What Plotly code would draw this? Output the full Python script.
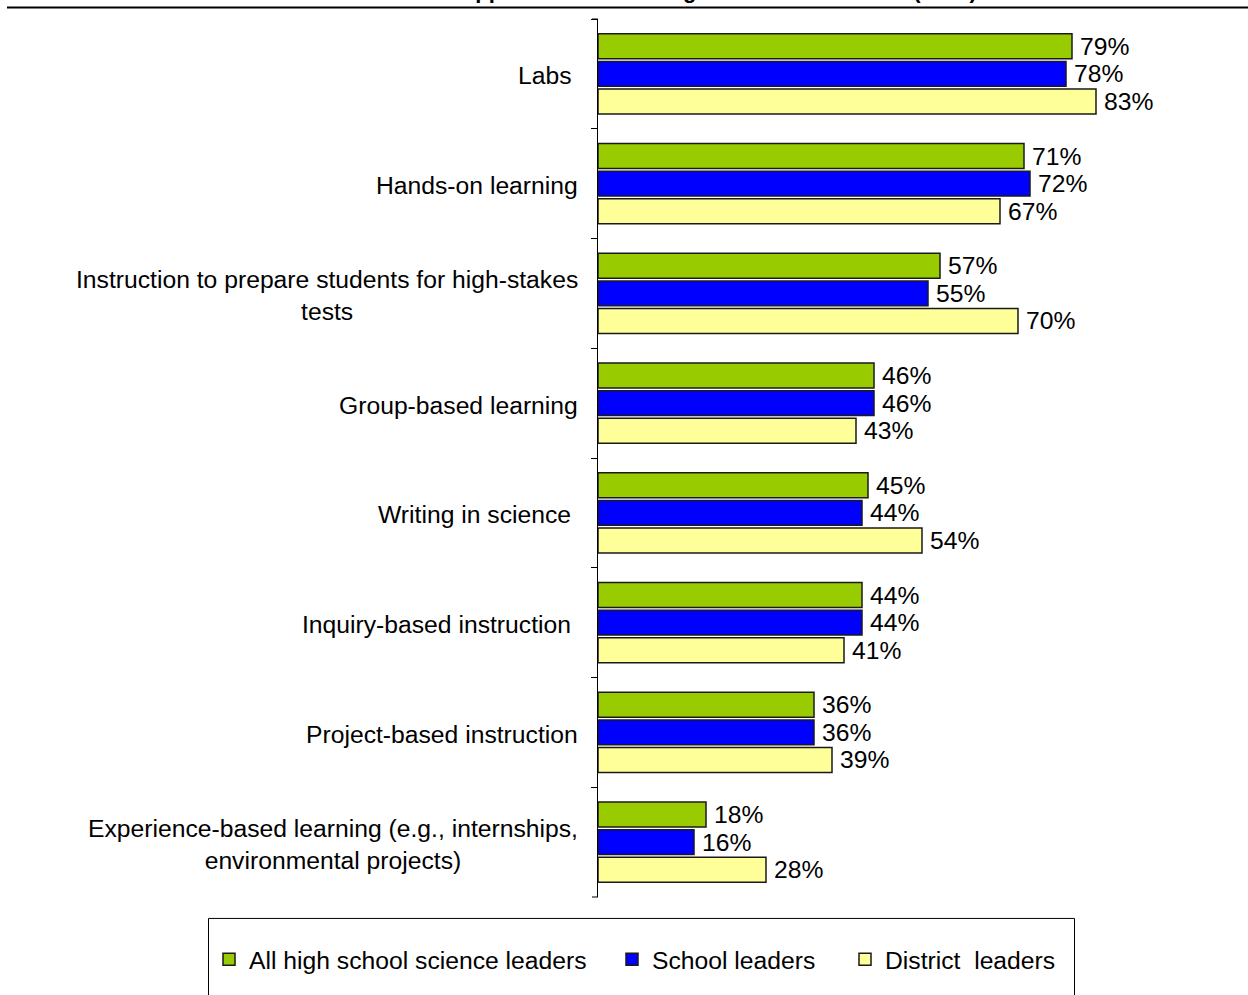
import plotly.graph_objects as go

# Survey categories (top to bottom) and the share of respondents per group
categories = [
    "Labs",
    "Hands-on learning",
    "Instruction to prepare students for high-stakes tests",
    "Group-based learning",
    "Writing in science",
    "Inquiry-based instruction",
    "Project-based instruction",
    "Experience-based learning (e.g., internships, environmental projects)",
]
category_labels = [
    "Labs\u00a0",
    "Hands-on learning",
    "Instruction to prepare students for high-stakes<br>tests",
    "Group-based learning",
    "Writing in science\u00a0",
    "Inquiry-based instruction\u00a0",
    "Project-based instruction",
    "Experience-based learning (e.g., internships,<br>environmental projects)",
]
all_leaders = [79, 71, 57, 46, 45, 44, 36, 18]
school_leaders = [78, 72, 55, 46, 44, 44, 36, 16]
district_leaders = [83, 67, 70, 43, 54, 41, 39, 28]

series_names = ["All high school science leaders", "School leaders", "District\u00a0 leaders"]
series_values = [all_leaders, school_leaders, district_leaders]
series_colors = ["#99CC00", "#0000FF", "#FFFF99"]
legend_ids = ["legend", "legend2", "legend3"]

title_text = "Instructional Approaches Receiving Increased Attention (2007)"

FONT = "Arial, Liberation Sans, sans-serif"
FS = 24.7
W, H = 1248, 995
L, R, T, B = 598, 50, 19, 95
PW, PH = W - L - R, H - T - B


def px_x(px):
    return (px - L) / PW


def px_y(py):
    return (H - B - py) / PH


fig = go.Figure()
for name, vals, color, lg in zip(series_names, series_values, series_colors, legend_ids):
    fig.add_trace(go.Bar(
        y=categories,
        x=vals,
        name=name,
        orientation="h",
        marker=dict(color=color, line=dict(color="#1a1a1a", width=1.5)),
        text=[f"\u2009{v}%" for v in vals],
        textposition="outside",
        textfont=dict(family=FONT, size=FS, color="black"),
        constraintext="none",
        cliponaxis=False,
        hoverinfo="skip",
        legend=lg,
    ))

# Category labels, right-aligned next to the axis with centred line breaks
annotations = []
for cat, lab in zip(categories, category_labels):
    annotations.append(dict(
        x=0, xref="paper", y=cat, yref="y",
        text=lab, showarrow=False,
        xanchor="right", yanchor="middle", align="center",
        xshift=-18, yshift=-2,
        font=dict(family=FONT, size=FS, color="black"),
    ))

# Title (sits at the very top edge of the page)
annotations.append(dict(
    x=px_x(979), xref="paper", y=px_y(5), yref="paper",
    text=f"<b>{title_text}</b>", showarrow=False,
    xanchor="right", yanchor="bottom",
    font=dict(family=FONT, size=22, color="black"),
))

shapes = [
    # rule under the title
    dict(type="line", xref="paper", yref="paper",
         x0=px_x(7), x1=px_x(1250), y0=px_y(7.5), y1=px_y(7.5),
         line=dict(color="black", width=2)),
    # legend frame
    dict(type="rect", xref="paper", yref="paper",
         x0=px_x(208.5), x1=px_x(1074.5), y0=px_y(921.5), y1=px_y(1010),
         line=dict(color="black", width=1), fillcolor="rgba(0,0,0,0)"),
    # tick marks at both ends of the category axis
    dict(type="line", xref="paper", yref="paper",
         x0=px_x(592), x1=0, y0=1, y1=1, line=dict(color="black", width=1)),
    dict(type="line", xref="paper", yref="paper",
         x0=px_x(592), x1=0, y0=0, y1=0, line=dict(color="black", width=1)),
]

legend_common = dict(
    orientation="h", yanchor="middle", y=px_y(963), xanchor="left",
    bgcolor="rgba(0,0,0,0)", borderwidth=0, itemwidth=30,
    font=dict(family=FONT, size=FS, color="black"),
    itemclick=False, itemdoubleclick=False,
)

fig.update_layout(
    width=W, height=H,
    margin=dict(l=L, r=R, t=T, b=B, pad=0),
    paper_bgcolor="white", plot_bgcolor="white",
    barmode="group", bargap=0.245, bargroupgap=0.1,
    font=dict(family=FONT, size=FS, color="black"),
    showlegend=True,
    legend=dict(legend_common, x=px_x(209)),
    legend2=dict(legend_common, x=px_x(612)),
    legend3=dict(legend_common, x=px_x(845)),
    xaxis=dict(range=[0, 100], visible=False, fixedrange=True),
    yaxis=dict(
        type="category", categoryorder="array", categoryarray=categories,
        range=[len(categories) - 0.5, -0.5],
        showticklabels=False, showgrid=False, zeroline=False,
        showline=True, linecolor="black", linewidth=1,
        ticks="outside", ticklen=6, tickcolor="black", tickwidth=1,
        tickson="boundaries", fixedrange=True,
    ),
    annotations=annotations,
    shapes=shapes,
)

fig.write_html("out.html")
